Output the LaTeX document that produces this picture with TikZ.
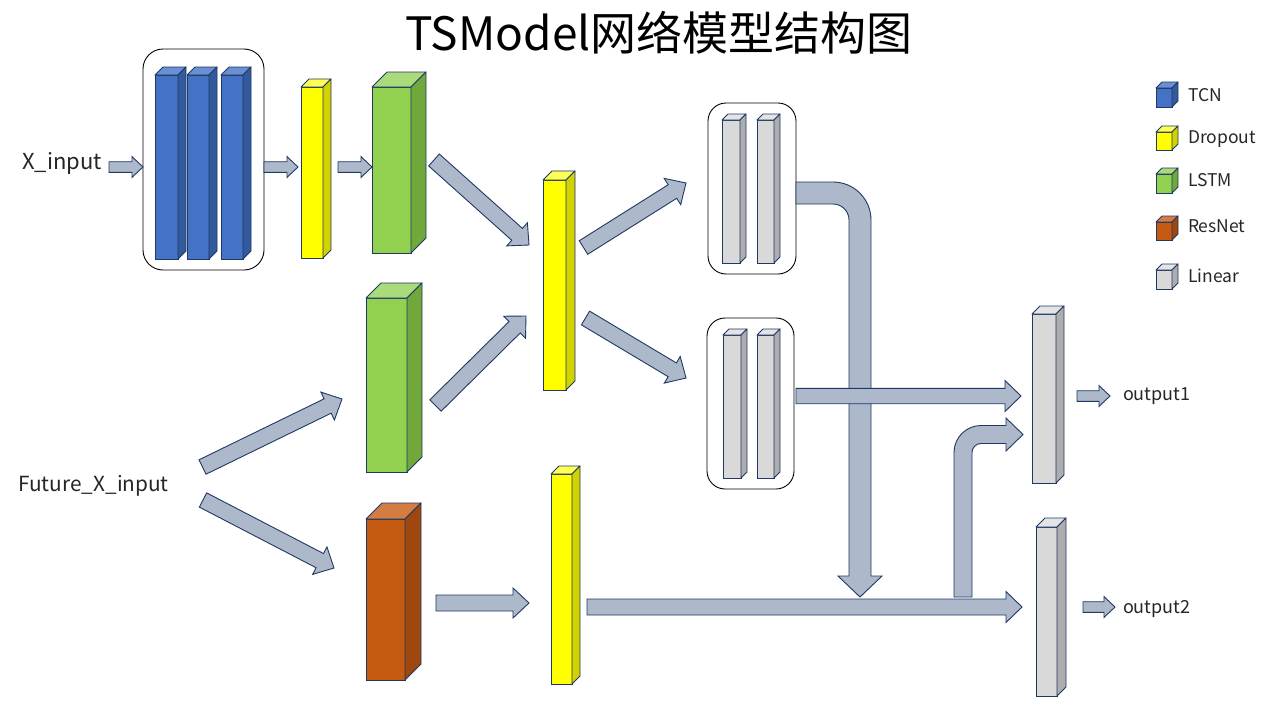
\documentclass[tikz,border=0pt]{standalone}
\usepackage{fontspec}
\setmainfont{Noto Sans CJK SC}
\usetikzlibrary{calc}
\definecolor{tcnF}{HTML}{4472C4}\definecolor{tcnS}{HTML}{335A9C}\definecolor{tcnT}{HTML}{6A8FD3}
\definecolor{drF}{HTML}{FFFF00}\definecolor{drS}{HTML}{D2D200}\definecolor{drT}{HTML}{FFFF55}
\definecolor{lsF}{HTML}{92D050}\definecolor{lsS}{HTML}{70A83C}\definecolor{lsT}{HTML}{A9DB7C}
\definecolor{rnF}{HTML}{C55A11}\definecolor{rnS}{HTML}{9E470E}\definecolor{rnT}{HTML}{D47D42}
\definecolor{liF}{HTML}{D9D9D9}\definecolor{liS}{HTML}{ADADAD}\definecolor{liT}{HTML}{E4E4E4}
\definecolor{arrF}{HTML}{ADB9CA}\definecolor{edgeC}{HTML}{1F3864}
\tikzset{
  cubefront/.style={draw=edgeC, line width=0.9pt, inner sep=0pt, outer sep=0pt, rectangle},
  cubeedge/.style={draw=edgeC, line width=0.9pt, line join=round},
  groupbox/.style={draw=black, line width=0.9pt, rounded corners=18pt, inner sep=0pt, outer sep=0pt},
  fatarr/.style={draw=edgeC, fill=arrF, line width=0.9pt, line join=miter},
  lbl/.style={inner sep=0pt, outer sep=0pt, text=black!85},
}
\newcommand\mkcube[7]{%
  \pgfmathsetmacro\cubW{#4-#2}%
  \pgfmathsetmacro\cubH{#5-#3}%
  \node[cubefront, fill=#7F, minimum width=\cubW pt, minimum height=\cubH pt] (#1) at ({(#2+#4)/2},{(#3+#5)/2}) {};
  \draw[cubeedge, fill=#7T] (#1.north west) -- ++(#6,-#6) -- ++(\cubW,0) -- (#1.north east) -- cycle;
  \draw[cubeedge, fill=#7S] (#1.north east) -- ++(#6,-#6) -- ++(0,\cubH) -- (#1.south east) -- cycle;
}
% tail, tip, half shaft, half head, head length
\newcommand\fatarrow[5]{%
  \coordinate (fatH) at ($(#2)!#5pt!(#1)$);
  \draw[fatarr] ($(#1)!#3pt!-90:(#2)$) -- ($(fatH)!#3pt!-90:(#2)$) -- ($(fatH)!#4pt!-90:(#2)$) -- (#2)
    -- ($(fatH)!#4pt!90:(#2)$) -- ($(fatH)!#3pt!90:(#2)$) -- ($(#1)!#3pt!90:(#2)$) -- cycle;
}
\begin{document}
\begin{tikzpicture}[x=1pt, y=-1pt]
\useasboundingbox (0,0) rectangle (1280,720);
\fill[white] (0,0) rectangle (1280,720);

% title
\node[lbl, anchor=base, text=black] (title) at (659,50) {\fontsize{46}{52}\selectfont TSModel网络模型结构图};

% group boxes
\node[groupbox, rounded corners=20pt, minimum width=121pt, minimum height=221pt] (tcngrp) at (203.5,159.5) {};
\node[groupbox, minimum width=88pt, minimum height=171pt] (lingrp1) at (752,188.5) {};
\node[groupbox, minimum width=87pt, minimum height=171pt] (lingrp2) at (750.5,403.5) {};

% cubes
\mkcube{tcn1}{155}{75}{178}{259}{8}{tcn}
\mkcube{tcn2}{187}{75}{209}{259}{8}{tcn}
\mkcube{tcn3}{221}{75}{243}{259}{8}{tcn}
\mkcube{dr1}{301}{87}{323}{258}{8}{dr}
\mkcube{ls1}{372}{87}{411}{253}{15}{ls}
\mkcube{ls2}{366}{298}{407}{472}{15}{ls}
\mkcube{rn}{366}{519}{405}{680}{16}{rn}
\mkcube{dr2}{543}{180}{566}{390}{9}{dr}
\mkcube{dr3}{551}{474}{572}{684}{8}{dr}
\mkcube{lin1a}{722}{120}{740}{263}{6}{li}
\mkcube{lin1b}{757}{120}{774}{263}{6}{li}
\mkcube{lin2a}{723}{335}{741}{478}{6}{li}
\mkcube{lin2b}{757}{335}{774}{478}{6}{li}
\mkcube{lo1}{1032}{314}{1056}{483}{8}{li}
\mkcube{lo2}{1036}{527}{1057}{696}{9}{li}

% legend
\mkcube{lgT}{1156}{88}{1172}{107}{6}{tcn}
\mkcube{lgD}{1156}{132}{1172}{150}{6}{dr}
\mkcube{lgL}{1156}{174}{1172}{193}{6}{ls}
\mkcube{lgR}{1156}{222}{1172}{240}{6}{rn}
\mkcube{lgN}{1156}{270}{1172}{289}{6}{li}
\begin{scope}[every node/.style={lbl, anchor=base west, font=\fontsize{17.5}{21}\selectfont}]
\node (tTCN) at (1188,101) {TCN};
\node (tDrop) at (1188,143) {Dropout};
\node (tLSTM) at (1188,186) {LSTM};
\node (tRes) at (1188,232) {ResNet};
\node (tLin) at (1188,282) {Linear};
\end{scope}

% bent arrows
\draw[fatarr] (796,182) -- (833,182) .. controls (854,182) and (871,199) .. (871,220) -- (871,576) -- (882,576) -- (860,597)
  -- (838,576) -- (849,576) -- (849,220) .. controls (849,211.2) and (841.8,204) .. (833,204) -- (796,204) -- cycle;
\draw[fatarr] (954,597) -- (954,452.5) .. controls (954,437.6) and (966.1,425.5) .. (981,425.5) -- (1006,425.5) -- (1006,418)
  -- (1023,434.5) -- (1006,451) -- (1006,443.5) -- (981,443.5) .. controls (976,443.5) and (972,447.5) .. (972,452.5) -- (972,597) -- cycle;

% straight arrows
\coordinate (a0s) at (109,167); \coordinate (a0e) at (143,167);
\coordinate (a1s) at (264,167); \coordinate (a1e) at (298,167);
\coordinate (a2s) at (338,167); \coordinate (a2e) at (372,167);
\coordinate (a3s) at (434,160); \coordinate (a3e) at (529,245);
\coordinate (a4s) at (435.5,405.5); \coordinate (a4e) at (526,316);
\coordinate (a5s) at (202.5,467); \coordinate (a5e) at (342,399);
\coordinate (a6s) at (203,500); \coordinate (a6e) at (334,568);
\coordinate (a7s) at (583.5,247.5); \coordinate (a7e) at (686,183);
\coordinate (a8s) at (585.5,318); \coordinate (a8e) at (686,378);
\coordinate (a9s) at (436,603); \coordinate (a9e) at (529,603);
\coordinate (a10s) at (587,607); \coordinate (a10e) at (1022,607);
\coordinate (a11s) at (796,396); \coordinate (a11e) at (1021,396);
\coordinate (a12s) at (1077,396); \coordinate (a12e) at (1110,396);
\coordinate (a13s) at (1083,607); \coordinate (a13e) at (1115,607);
\fatarrow{a0s}{a0e}{5.3}{10.4}{11}
\fatarrow{a1s}{a1e}{5.3}{10.4}{11}
\fatarrow{a2s}{a2e}{5.3}{10.4}{11}
\fatarrow{a3s}{a3e}{8}{15.5}{16}
\fatarrow{a4s}{a4e}{8}{15.5}{16}
\fatarrow{a5s}{a5e}{8}{15.5}{16}
\fatarrow{a6s}{a6e}{8}{15.5}{16}
\fatarrow{a7s}{a7e}{8}{15.5}{16}
\fatarrow{a8s}{a8e}{8}{15.5}{16}
\fatarrow{a9s}{a9e}{8}{15}{16}
\fatarrow{a10s}{a10e}{8}{15.5}{16}
\fatarrow{a11s}{a11e}{7.7}{15.5}{16}
\fatarrow{a12s}{a12e}{5.3}{10.4}{11}
\fatarrow{a13s}{a13e}{5.3}{10.4}{11}

% labels
\node[lbl, anchor=base, font=\fontsize{22}{26}\selectfont] (xin) at (62,169) {X\_input};
\node[lbl, anchor=base, font=\fontsize{20.8}{25}\selectfont] (fxin) at (93.5,491) {Future\_X\_input};
\begin{scope}[every node/.style={lbl, anchor=base west, font=\fontsize{18}{22}\selectfont}]
\node (out1) at (1123,400) {output1};
\node (out2) at (1123,613) {output2};
\end{scope}
\end{tikzpicture}
\end{document}
